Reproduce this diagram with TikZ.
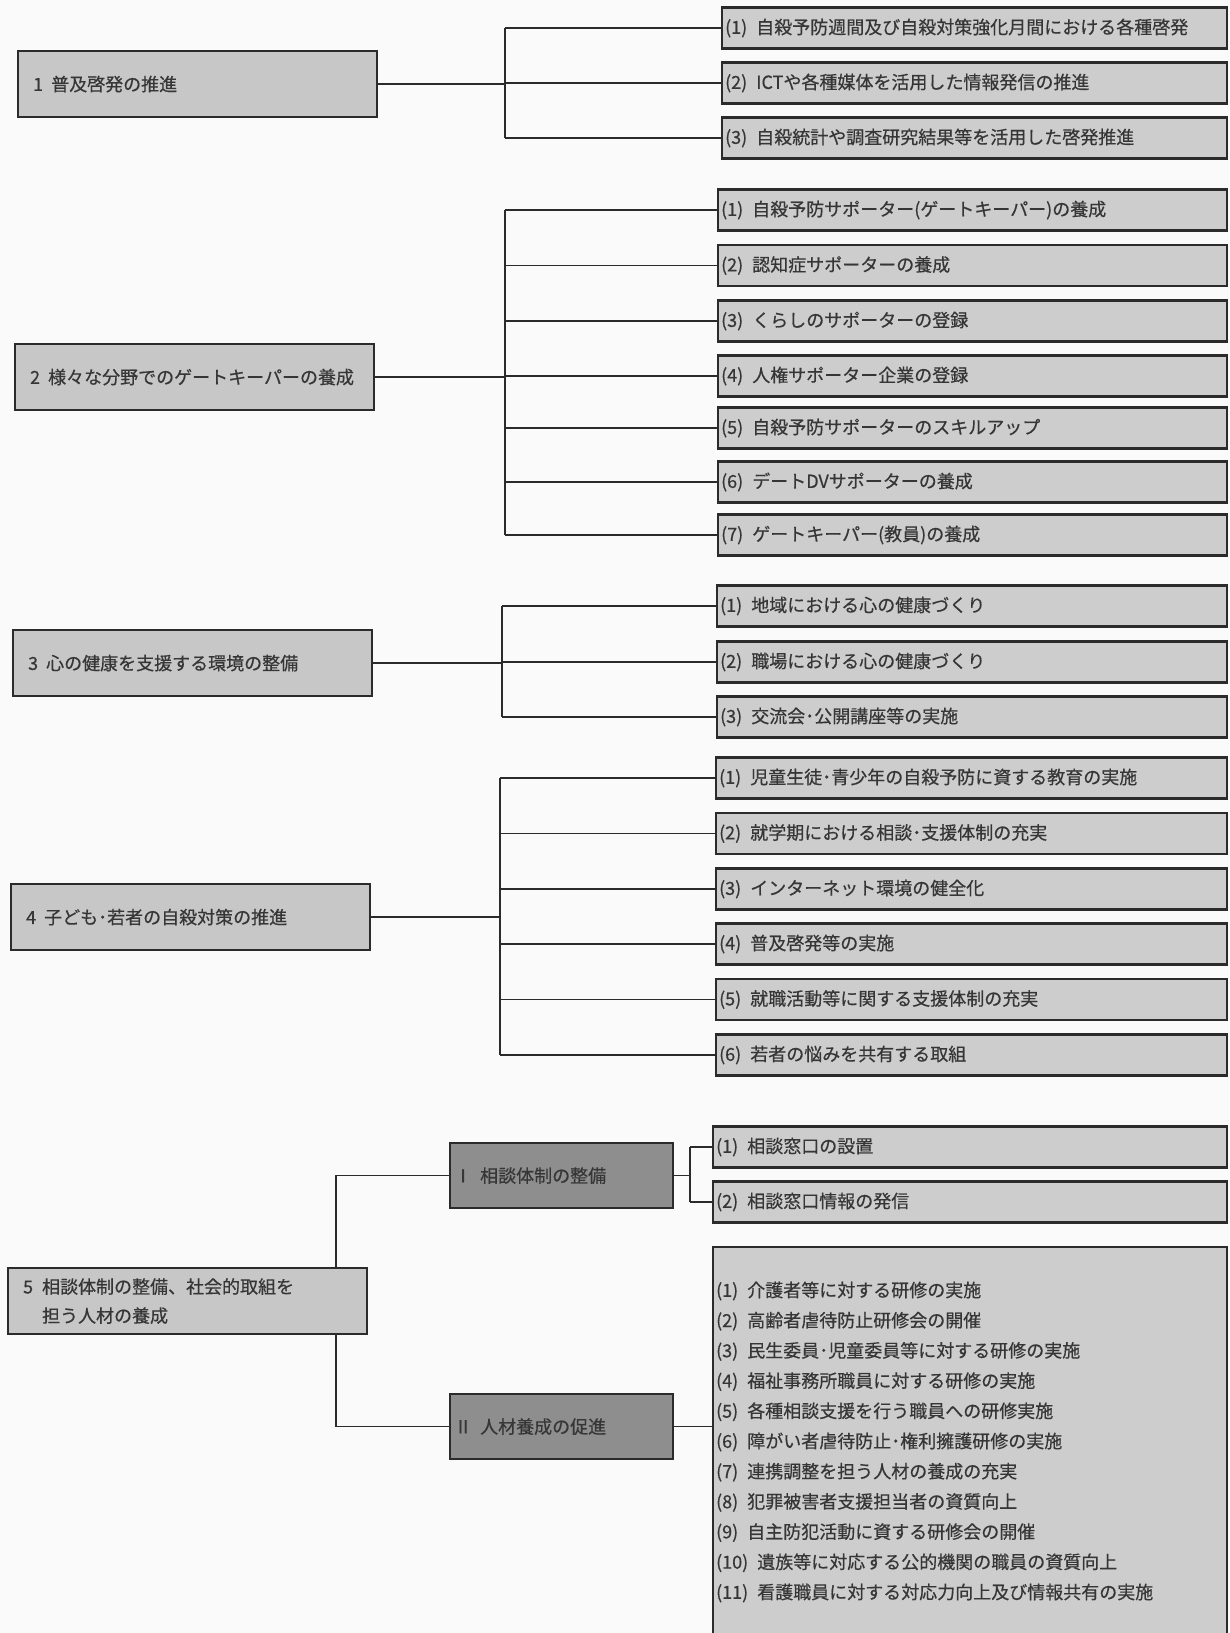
\documentclass[tikz,border=0pt]{standalone}
\usepackage{fontspec}
\newfontfamily\jp[FakeBold=0.5]{Noto Sans CJK JP}
\usetikzlibrary{backgrounds}

\definecolor{ink}{HTML}{2B2B2B}
\definecolor{txt}{HTML}{363636}
\definecolor{lfill}{HTML}{C7C7C7}
\definecolor{rfill}{HTML}{CDCDCD}
\definecolor{dfill}{HTML}{8E8E8E}
\definecolor{paper}{HTML}{FAFAFA}

% "(n)" label in front of an item, and a leading section number
\newcommand\itm[1]{(#1)\hspace{0.5em}}
\newcommand\headnum[1]{#1\hspace{0.45em}}

\tikzset{
  base/.style={draw=ink, line width=2.2pt, text=txt, align=left, inner ysep=0pt,
    font=\jp\fontsize{18}{29}\selectfont},
  mainbox/.style={base, fill=lfill, anchor=north west, text width=329pt,
    minimum height=66pt, inner xsep=15pt},
  subbox/.style={base, fill=dfill, anchor=north west, text width=215pt,
    minimum height=65pt, inner xsep=4pt},
  itembox/.style={base, fill=rfill, anchor=west, minimum height=41pt, inner xsep=3pt},
  link/.style={draw=ink, line width=1.6pt},
}

\begin{document}
\begin{tikzpicture}[x=1pt,y=-1pt]
\begin{scope}[on background layer]
  \fill[paper] (0,0) rectangle (1229,1633);
\end{scope}
\useasboundingbox (0,0) rectangle (1229,1633);

% ---------- 1 ----------
\node[mainbox] (m1) at (17,50) {\headnum{1}普及啓発の推進};
\begin{scope}[itembox/.append style={text width=499pt}]
  \node[itembox] (a1) at (721,28)  {\itm{1}自殺予防週間及び自殺対策強化月間における各種啓発};
  \node[itembox] (a2) at (721,83)  {\itm{2}ICTや各種媒体を活用した情報発信の推進};
  \node[itembox] (a3) at (721,138) {\itm{3}自殺統計や調査研究結果等を活用した啓発推進};
\end{scope}
\coordinate (v1) at (505,0);
\begin{scope}[on background layer]
  \draw[link] (m1.east) -- (m1.east -| v1);
  \draw[link] (a1.west -| v1) -- (a3.west -| v1);
  \foreach \n in {a1,a2,a3} \draw[link] (\n.west -| v1) -- (\n.west);
\end{scope}

% ---------- 2 ----------
\node[mainbox] (m2) at (14,343) {\headnum{2}様々な分野でのゲートキーパーの養成};
\begin{scope}[itembox/.append style={text width=503pt}]
  \node[itembox] (b1) at (717,210)   {\itm{1}自殺予防サポーター(ゲートキーパー)の養成};
  \node[itembox] (b2) at (717,265.5) {\itm{2}認知症サポーターの養成};
  \node[itembox] (b3) at (717,321)   {\itm{3}くらしのサポーターの登録};
  \node[itembox] (b4) at (717,376)   {\itm{4}人権サポーター企業の登録};
  \node[itembox] (b5) at (717,428)   {\itm{5}自殺予防サポーターのスキルアップ};
  \node[itembox] (b6) at (717,482)   {\itm{6}デートDVサポーターの養成};
  \node[itembox] (b7) at (717,535)   {\itm{7}ゲートキーパー(教員)の養成};
\end{scope}
\coordinate (v2) at (505,0);
\begin{scope}[on background layer]
  \draw[link] (m2.east) -- (m2.east -| v2);
  \draw[link] (b1.west -| v2) -- (b7.west -| v2);
  \foreach \n in {b1,b2,b3,b4,b5,b6,b7} \draw[link] (\n.west -| v2) -- (\n.west);
\end{scope}

% ---------- 3 ----------
\node[mainbox] (m3) at (12,629) {\headnum{3}心の健康を支援する環境の整備};
\begin{scope}[itembox/.append style={text width=504pt}]
  \node[itembox] (c1) at (716,606) {\itm{1}地域における心の健康づくり};
  \node[itembox] (c2) at (716,662) {\itm{2}職場における心の健康づくり};
  \node[itembox] (c3) at (716,717) {\itm{3}交流会･公開講座等の実施};
\end{scope}
\coordinate (v3) at (502,0);
\begin{scope}[on background layer]
  \draw[link] (m3.east) -- (m3.east -| v3);
  \draw[link] (c1.west -| v3) -- (c3.west -| v3);
  \foreach \n in {c1,c2,c3} \draw[link] (\n.west -| v3) -- (\n.west);
\end{scope}

% ---------- 4 ----------
\node[mainbox] (m4) at (10,883) {\headnum{4}子ども･若者の自殺対策の推進};
\begin{scope}[itembox/.append style={text width=505pt}]
  \node[itembox] (d1) at (715,778)    {\itm{1}児童生徒･青少年の自殺予防に資する教育の実施};
  \node[itembox] (d2) at (715,833.5)  {\itm{2}就学期における相談･支援体制の充実};
  \node[itembox] (d3) at (715,889)    {\itm{3}インターネット環境の健全化};
  \node[itembox] (d4) at (715,944)    {\itm{4}普及啓発等の実施};
  \node[itembox] (d5) at (715,999.5)  {\itm{5}就職活動等に関する支援体制の充実};
  \node[itembox] (d6) at (715,1055)   {\itm{6}若者の悩みを共有する取組};
\end{scope}
\coordinate (v4) at (500,0);
\begin{scope}[on background layer]
  \draw[link] (m4.east) -- (m4.east -| v4);
  \draw[link] (d1.west -| v4) -- (d6.west -| v4);
  \foreach \n in {d1,d2,d3,d4,d5,d6} \draw[link] (\n.west -| v4) -- (\n.west);
\end{scope}

% ---------- 5 ----------
\node[mainbox] (m5) at (7,1267)
  {\makebox[19pt][l]{5}相談体制の整備、社会的取組を\\\hspace*{19pt}担う人材の養成};
\node[subbox] (s1) at (449,1142) {Ⅰ\hspace{0.45em}相談体制の整備};
\node[subbox] (s2) at (449,1393) {Ⅱ\hspace{0.45em}人材養成の促進};
\begin{scope}[itembox/.append style={text width=508pt}]
  \node[itembox] (e1) at (712,1147) {\itm{1}相談窓口の設置};
  \node[itembox] (e2) at (712,1202) {\itm{2}相談窓口情報の発信};
  \node[itembox, minimum height=390pt, font=\jp\fontsize{18}{30.2}\selectfont]
    (big) at (712,1442) {%
    \itm{1}介護者等に対する研修の実施\\
    \itm{2}高齢者虐待防止研修会の開催\\
    \itm{3}民生委員･児童委員等に対する研修の実施\\
    \itm{4}福祉事務所職員に対する研修の実施\\
    \itm{5}各種相談支援を行う職員への研修実施\\
    \itm{6}障がい者虐待防止･権利擁護研修の実施\\
    \itm{7}連携調整を担う人材の養成の充実\\
    \itm{8}犯罪被害者支援担当者の資質向上\\
    \itm{9}自主防犯活動に資する研修会の開催\\
    \itm{10}遺族等に対応する公的機関の職員の資質向上\\
    \itm{11}看護職員に対する対応力向上及び情報共有の実施};
\end{scope}
\coordinate (v5) at (336,0);
\coordinate (w5) at (690,0);
\begin{scope}[on background layer]
  \draw[link] (s1.west) -- (s1.west -| v5) -- (s2.west -| v5) -- (s2.west);
  \draw[link] (s1.east) -- (s1.east -| w5);
  \draw[link] (e1.west -| w5) -- (e2.west -| w5);
  \foreach \n in {e1,e2} \draw[link] (\n.west -| w5) -- (\n.west);
  \draw[link] (s2.east) -- (s2.east -| big.west);
\end{scope}
\end{tikzpicture}
\end{document}
